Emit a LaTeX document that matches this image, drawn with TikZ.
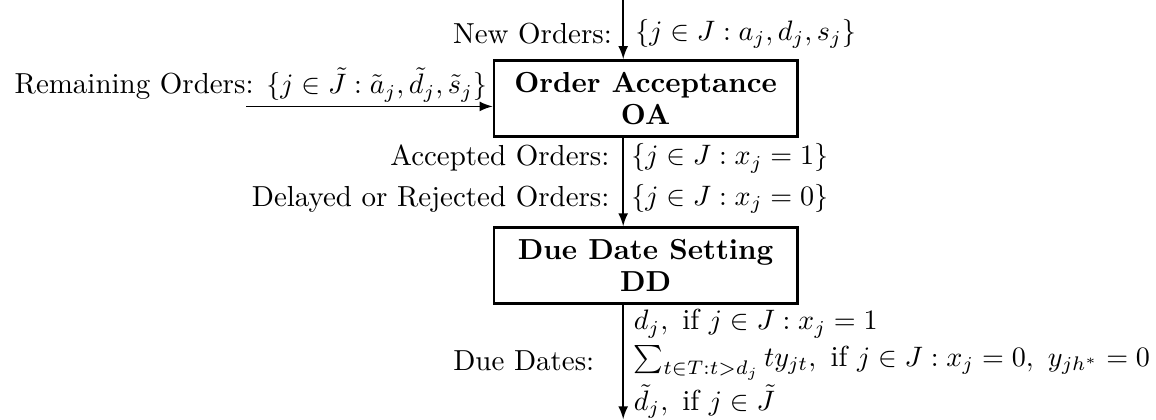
\documentclass[tikz,border=0pt]{standalone}
\usepackage{amsmath}
\usetikzlibrary{positioning}

\begin{document}
\fontsize{10.3pt}{12.4pt}\selectfont
\begin{tikzpicture}
  % styles
  \tikzset{
    stagebox/.style={draw, line width=1pt, minimum width=3.79cm, minimum height=0.95cm,
      align=center, inner sep=1pt, font=\bfseries},
    flow/.style={-latex, line width=0.6pt},
    lbl/.style={inner sep=1pt}
  }
  \useasboundingbox (0,0) rectangle (14.45,-5.24);

  % the two stages
  \node[stagebox] (oa) at (8.07,-1.23) {Order Acceptance\\[-1pt]OA};
  \node[stagebox] (dd) at (8.07,-3.32) {Due Date Setting\\[-1pt]DD};

  % free ends of the connectors
  \coordinate (neworders) at (7.79,0);
  \coordinate (remaining) at (3.08,-1.33);
  \coordinate (duedates) at (7.79,-5.24);

  % connectors
  \draw[flow] (neworders) -- (neworders |- oa.north);
  \draw[flow] (remaining) -- (remaining -| oa.west);
  \draw[flow] (neworders |- oa.south) -- (neworders |- dd.north);
  \draw[flow] (neworders |- dd.south) -- (duedates);

  % labels
  \node[lbl, anchor=east] (newlbl) at (7.69,-0.42) {New Orders:};
  \node[lbl, anchor=west] (newset) at (7.90,-0.42) {$\{j \in J : a_j, d_j, s_j\}$};
  \node[lbl, anchor=east] (remlbl) at (6.13,-1.06)
    {Remaining Orders: $\{j \in \tilde{J} : \tilde{a}_j, \tilde{d}_j, \tilde{s}_j\}$};
  \node[lbl, anchor=east] (acclbl) at (7.66,-1.98) {Accepted Orders:};
  \node[lbl, anchor=west] (accset) at (7.85,-1.98) {$\{j \in J : x_j = 1\}$};
  \node[lbl, anchor=east] (rejlbl) at (7.66,-2.49) {Delayed or Rejected Orders:};
  \node[lbl, anchor=west] (rejset) at (7.85,-2.49) {$\{j \in J : x_j = 0\}$};
  \node[lbl, anchor=east] (duelbl) at (7.47,-4.51) {Due Dates:};
  \node[lbl, anchor=west, align=left] (dueset) at (7.88,-4.55)
    {$d_j,\ \text{if } j \in J : x_j = 1$\\[0.5pt]
     $\sum_{t \in T : t > d_j} t y_{jt},\ \text{if } j \in J : x_j = 0,\ y_{jh^*} = 0$\\[0.5pt]
     $\tilde{d}_j,\ \text{if } j \in \tilde{J}$};
\end{tikzpicture}
\end{document}
